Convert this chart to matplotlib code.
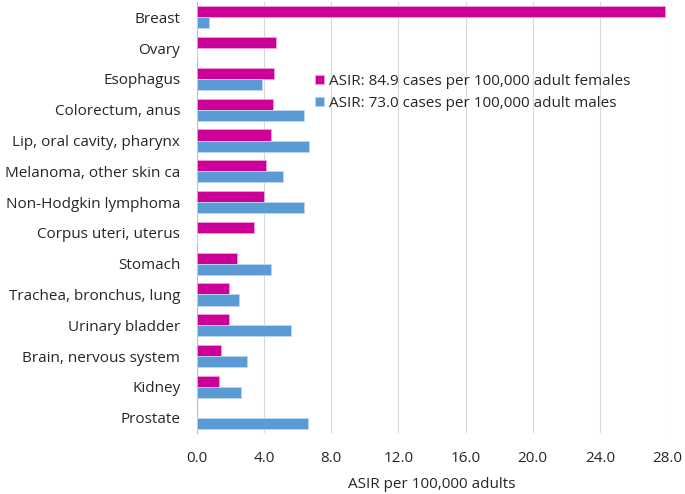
import numpy as np
from matplotlib import pyplot as plt

categories = ['Breast', 'Ovary', 'Esophagus', 'Colorectum, anus', 'Lip, oral cavity, pharynx',
              'Melanoma, other skin ca', 'Non-Hodgkin lymphoma', 'Corpus uteri, uterus',
              'Stomach', 'Trachea, bronchus, lung', 'Urinary bladder',
              'Brain, nervous system', 'Kidney', 'Prostate']
females = [27.9, 4.7, 4.6, 4.5, 4.4, 4.1, 4.0, 3.4, 2.4, 1.9, 1.9, 1.4, 1.3, 0.0]
males = [0.7, 0.0, 3.9, 6.4, 6.7, 5.1, 6.4, 0.0, 4.4, 2.5, 5.6, 3.0, 2.6, 6.6]
female_label = 'ASIR: 84.9 cases per 100,000 adult females'
male_label = 'ASIR: 73.0 cases per 100,000 adult males'
xticks = [0, 4, 8, 12, 16, 20, 24, 28]

plt.rcParams['font.family'] = ['Open Sans', 'DejaVu Sans']
fs = 11

fig = plt.figure(figsize=(6.85, 4.94), dpi=100)
ax = fig.add_axes([0.2876, 0.1235, 0.6861, 0.8725])

y = np.arange(len(categories))
h = 0.36
ax.barh(y - h / 2, females, height=h, color='#CC0099', edgecolor='#F0A0D8', linewidth=0.6,
        label=female_label, zorder=3)
ax.barh(y + h / 2, males, height=h, color='#5B9BD5', edgecolor='#BDD7EE', linewidth=0.6,
        label=male_label, zorder=3)

ax.set_ylim(len(categories) - 0.5, -0.5)
ax.set_xlim(0, 28)
ax.set_yticks(y)
ax.set_yticklabels(categories, fontsize=fs, color='#262626')
ax.set_xticks(xticks)
ax.set_xticklabels([f'{v:.1f}' for v in xticks], fontsize=fs, color='#262626')
ax.tick_params(axis='y', length=0, pad=12)
ax.tick_params(axis='x', length=0, pad=13)
ax.xaxis.grid(True, color='#D9D9D9', linewidth=0.8, zorder=0)
ax.set_axisbelow(True)
for s in ['top', 'right', 'bottom']:
    ax.spines[s].set_visible(False)
ax.spines['left'].set_color('#BFBFBF')
ax.set_xlabel('ASIR per 100,000 adults', fontsize=fs, color='#262626', labelpad=8)

ax.legend(loc='upper left', bbox_to_anchor=(0.222, 0.865), frameon=False, fontsize=fs,
          handlelength=0.6, handleheight=0.6, handletextpad=0.3, labelspacing=0.45,
          labelcolor='#262626')

fig.savefig('out.png', dpi=100)
